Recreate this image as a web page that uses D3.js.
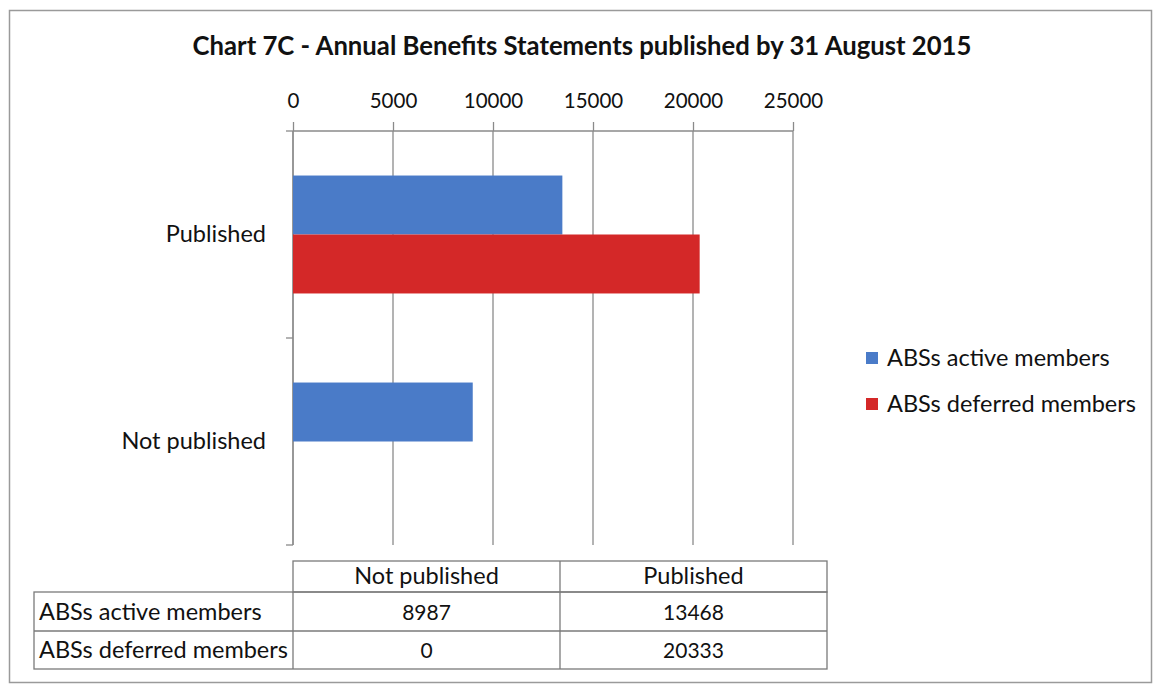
<!DOCTYPE html>
<html>
<head>
<meta charset="utf-8">
<script src="https://cdn.jsdelivr.net/npm/d3@7"></script>
<style>
  body { margin: 0; background: #fff; }
  svg { display: block; font-family: Lato, "Open Sans", sans-serif; }
</style>
</head>
<body>
<svg id="chart" width="1156" height="690"></svg>
<script>
// Chart data
const categories = ["Published", "Not published"];
const tableColumns = ["Not published", "Published"];
const seriesNames = ["ABSs active members", "ABSs deferred members"];
const activeMembers = [13468, 8987];   // Published, Not published
const deferredMembers = [20333, 0];    // Published, Not published
const xTicks = [0, 5000, 10000, 15000, 20000, 25000];
const seriesColors = ["#4a7bc8", "#d42828"];

const labelSize = 23.5;
const svg = d3.select("#chart");

// Outer frame
svg.append("rect")
  .attr("x", 9.5).attr("y", 10.5).attr("width", 1142).attr("height", 672)
  .attr("fill", "#fff").attr("stroke", "#9a9a9a").attr("stroke-width", 1.5);

// Title
svg.append("text")
  .attr("x", 582).attr("y", 55)
  .attr("text-anchor", "middle")
  .attr("font-weight", "bold")
  .attr("font-size", 25.7)
  .attr("fill", "#111")
  .text("Chart 7C - Annual Benefits Statements published by 31 August 2015");

const plot = { left: 293, right: 793, top: 131, bottom: 545 };

const x = d3.scaleLinear().domain([0, 25000]).range([plot.left, plot.right]);
const y = d3.scaleBand().domain(categories).range([plot.top, plot.bottom]);
const inner = d3.scaleBand().domain(seriesNames)
  .range([0, y.bandwidth()]).paddingInner(0).paddingOuter(0.755);

// Vertical gridlines
svg.append("g").selectAll("line").data(xTicks).join("line")
  .attr("x1", d => x(d)).attr("x2", d => x(d))
  .attr("y1", plot.top).attr("y2", plot.bottom)
  .attr("stroke", "#8a8a8a").attr("stroke-width", 1.3);

// Top value axis
const xAxis = svg.append("g")
  .attr("transform", `translate(0,${plot.top})`)
  .call(d3.axisTop(x).tickValues(xTicks).tickSize(9).tickPadding(14).tickFormat(d3.format("d")));
xAxis.select(".domain").attr("stroke", "#8a8a8a").attr("stroke-width", 1.3)
  .attr("d", `M${plot.left},0H${plot.right}`);
xAxis.selectAll(".tick line").attr("stroke", "#8a8a8a").attr("stroke-width", 1.3);
xAxis.selectAll(".tick text")
  .attr("font-family", "Lato, 'Open Sans', sans-serif")
  .attr("font-size", 20.5).attr("fill", "#111");

// Left category axis
const yAxis = svg.append("g")
  .attr("transform", `translate(${plot.left},0)`)
  .call(d3.axisLeft(y).tickSize(0).tickPadding(27));
yAxis.select(".domain").attr("stroke", "#8a8a8a").attr("stroke-width", 1.3)
  .attr("d", `M0,${plot.top}V${plot.bottom}`);
yAxis.selectAll(".tick text")
  .attr("font-family", "Lato, 'Open Sans', sans-serif")
  .attr("font-size", labelSize).attr("fill", "#111");
// Category boundary ticks
const bounds = [plot.top, y("Not published"), plot.bottom];
svg.append("g").selectAll("line").data(bounds).join("line")
  .attr("x1", plot.left - 7).attr("x2", plot.left)
  .attr("y1", d => d).attr("y2", d => d)
  .attr("stroke", "#8a8a8a").attr("stroke-width", 1.3);

// Bars
const series = [activeMembers, deferredMembers];
series.forEach((vals, si) => {
  svg.append("g").selectAll("rect").data(categories).join("rect")
    .attr("x", x(0))
    .attr("y", c => y(c) + inner(seriesNames[si]))
    .attr("width", (c, i) => x(vals[i]) - x(0))
    .attr("height", inner.bandwidth())
    .attr("fill", seriesColors[si]);
});

// Legend
const legend = svg.append("g").attr("transform", "translate(866,352)");
seriesNames.forEach((name, i) => {
  const g = legend.append("g").attr("transform", `translate(0,${i * 46})`);
  g.append("rect").attr("width", 12).attr("height", 12).attr("fill", seriesColors[i]);
  g.append("text").attr("x", 21).attr("y", 14)
    .attr("font-size", labelSize).attr("fill", "#111").text(name);
});

// Data table below the chart
const colX = [293, 560, 827];
const tableLeft = 34;
const rowY = [561, 592, 631, 669];
const tbl = svg.append("g").attr("stroke", "#7a7a7a").attr("stroke-width", 1.3).attr("fill", "none");
// header row
tbl.append("rect").attr("x", colX[0]).attr("y", rowY[0]).attr("width", colX[2] - colX[0]).attr("height", rowY[1] - rowY[0]);
tbl.append("line").attr("x1", colX[1]).attr("x2", colX[1]).attr("y1", rowY[0]).attr("y2", rowY[3]);
// body rows
tbl.append("rect").attr("x", tableLeft).attr("y", rowY[1]).attr("width", colX[2] - tableLeft).attr("height", rowY[3] - rowY[1]);
tbl.append("line").attr("x1", tableLeft).attr("x2", colX[2]).attr("y1", rowY[2]).attr("y2", rowY[2]);
tbl.append("line").attr("x1", colX[0]).attr("x2", colX[0]).attr("y1", rowY[1]).attr("y2", rowY[3]);

const txt = svg.append("g").attr("font-size", labelSize).attr("fill", "#111");
tableColumns.forEach((c, i) => {
  txt.append("text").attr("x", (colX[i] + colX[i + 1]) / 2).attr("y", rowY[1] - 8)
    .attr("text-anchor", "middle").text(c);
});
// values keyed by table column
const colIndex = tableColumns.map(c => categories.indexOf(c));
series.forEach((vals, si) => {
  const yy = rowY[si + 2] - 11;
  txt.append("text").attr("x", tableLeft + 5).attr("y", yy).text(seriesNames[si]);
  colIndex.forEach((ci, j) => {
    txt.append("text").attr("x", (colX[j] + colX[j + 1]) / 2).attr("y", yy)
      .attr("text-anchor", "middle").attr("font-size", 21).text(vals[ci]);
  });
});
</script>
</body>
</html>
